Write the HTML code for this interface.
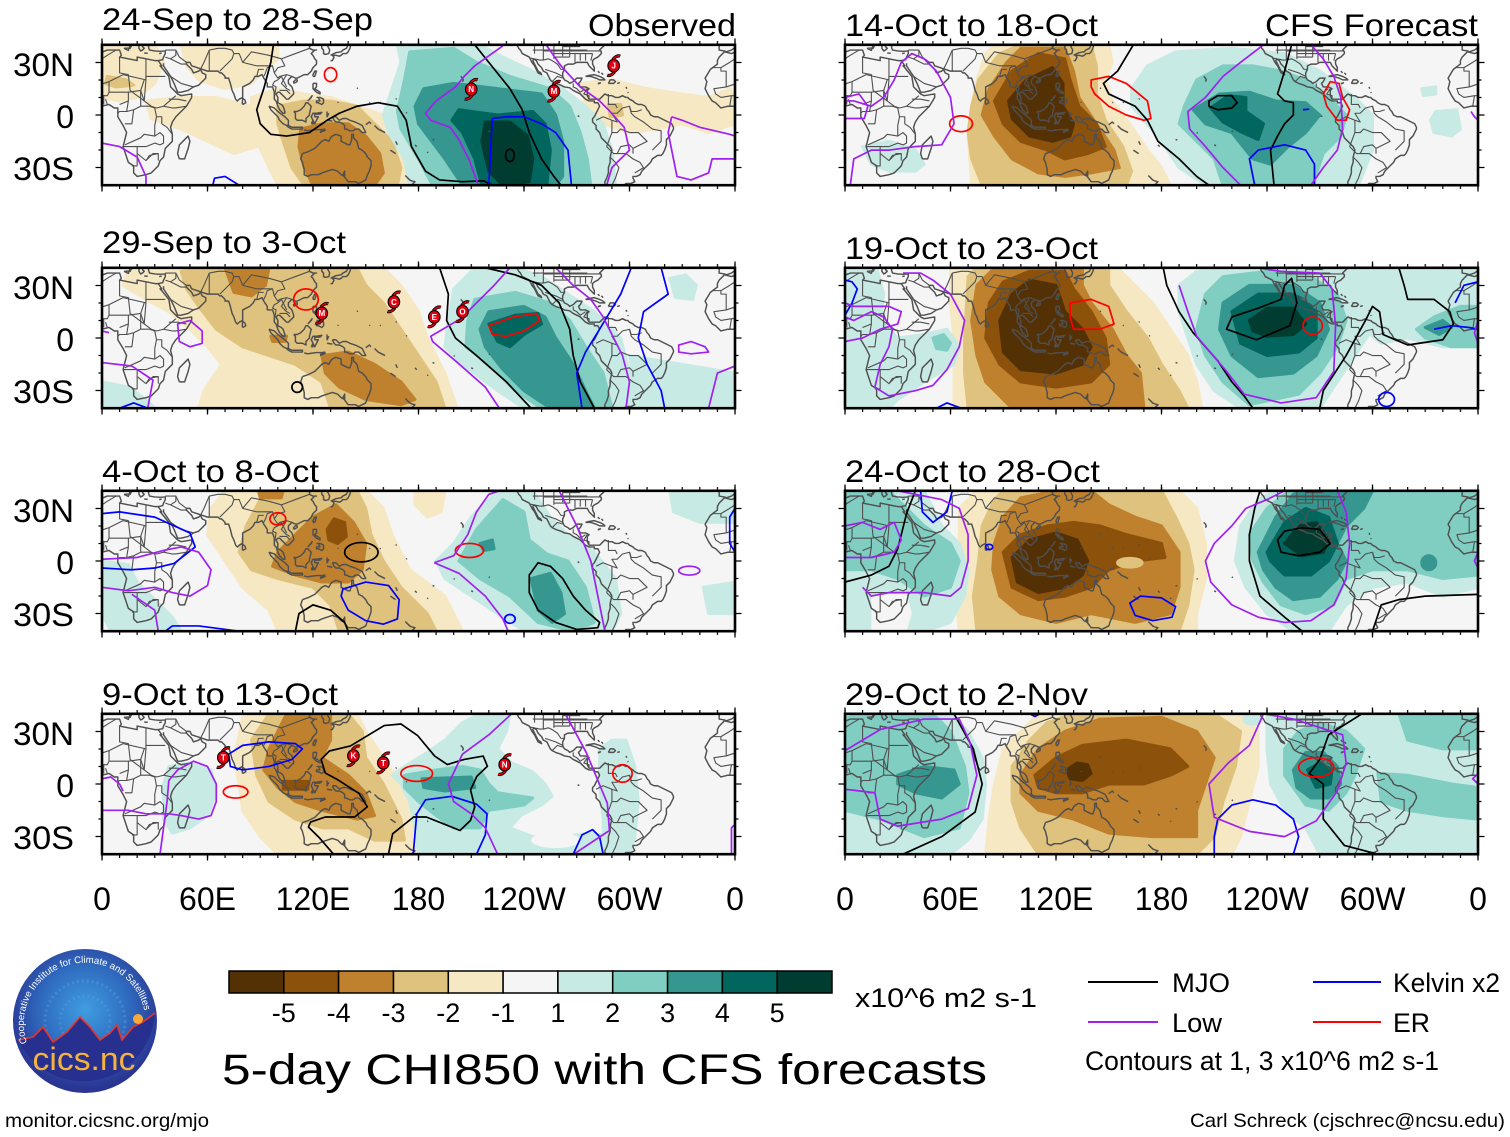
<!DOCTYPE html>
<html><head><meta charset="utf-8">
<style>
html,body{margin:0;padding:0;background:#fff;}
svg{display:block;font-family:"Liberation Sans",Arial,sans-serif;}
.m polyline,.m polygon,.m ellipse,.m path{vector-effect:non-scaling-stroke;}
.cst polyline{fill:none;stroke:#4f4f4f;stroke-width:1.45;stroke-linejoin:round;vector-effect:non-scaling-stroke;}
.cst .bd{stroke-width:1.1;}
.a5{fill:#543005;stroke:#543005}.a4{fill:#8c510a;stroke:#8c510a}.a3{fill:#bf812d;stroke:#bf812d}.a2{fill:#dfc27d;stroke:#dfc27d}.a1{fill:#f6e8c3;stroke:#f6e8c3}
.z0{fill:#f5f5f5}
.b1{fill:#c7eae5;stroke:#c7eae5}.b2{fill:#80cdc1;stroke:#80cdc1}.b3{fill:#35978f;stroke:#35978f}.b4{fill:#01665e;stroke:#01665e}.b5{fill:#003c30;stroke:#003c30}
.a1,.a2,.a3,.a4,.a5,.b1,.b2,.b3,.b4,.b5{stroke-width:3;stroke-linejoin:round;}
.k,.p,.u,.r{fill:none;stroke-width:1.7;stroke-linejoin:round;vector-effect:non-scaling-stroke;}
.k{stroke:#000}.p{stroke:#a020f0}.u{stroke:#0000ff}.r{stroke:#ff0000}
.hl{font-size:8px;font-weight:bold;fill:#fff;text-anchor:middle;}
</style></head>
<body>
<svg width="1510" height="1137" viewBox="0 0 1510 1137" xmlns="http://www.w3.org/2000/svg">
<defs>
<clipPath id="cp"><rect x="0" y="-40" width="360" height="80"/></clipPath>
<pattern id="tk" x="-0.6" y="0" width="17.5833" height="10" patternUnits="userSpaceOnUse"><rect width="1.2" height="10" fill="#000"/></pattern>
<g id="coastbase" class="cst">
<polyline points="-6,36 -2,35 3,37 10,37 11,34 10,33 15,32 20,31 20,33 25,32 30,31 32,31 34,28 33,28 34,27 38,22 39,16 43,12 45,11 51,12 51,10 48,5 45,2 42,-1 40,-4 39,-7 40,-11 40,-15 36,-19 35,-24 33,-26 32,-29 28,-33 25,-34 20,-35 18,-33 18,-29 15,-27 12,-18 14,-10 12,-6 9,-1 9,4 7,4 4,6 0,5 -4,5 -8,4 -11,7 -13,8 -15,11 -17,15 -16,19 -17,21 -14,26 -10,29 -10,31 -9,33 -6,36"/>
<polyline points="44,-25 47,-25 49,-19 50,-15 49,-12 48,-13 44,-17 43,-22 44,-25"/>
<polyline points="32,31 34.5,31.5 35,33 36,35 36,36.5 33,36.3 30,36.5 27,37 26.5,38.5 26.5,40"/>
<polyline points="35,29.5 35,28 37,25 39,22 41,18 43,13 45,13 49,14 52,16 55,17 57,19 59,21 59,23 57,24 56,26 55,25 52,24 51,26 50,27 48,29 48,30 50,30 51,28 54,27 57,26 60,25 62,25 66,25 67,24 68,24 70,22 70,21 72,21 73,18 74,14 75,12 76,9 77,8 78,9 80,10 80,13 80,16 82,17 84,18 86,20 87,22 89,22 91,23 92,21 94,18 94,16 97,16 98,13 98,9 99,8 100,5 101,3 103,1 104,1 104,2 103,5 102,6 100,7 100,10 99,12 100,13 101,13 103,11 105,9 106,9 107,10 109,12 109,13 108,16 106,18 106,20 108,22 110,21 111,21 113,22 115,23 117,23 119,25 120,27 122,29 122,31 121,32 120,34 119,35 121,37 122,37 120,37 118,38 118,39 119,40"/>
<polyline points="80,6 81.8,7 81.3,8.5 80,9.5 79.8,7 80,6"/>
<polyline points="125,40 125,38 126,37 126,35 127,34.5 129,35 129.5,37 128.5,39 128,40"/>
<polyline points="130,31 131,31 132,33 131,34 133,34 135,33.5 136,34 137,35 139,35 140,36 141,38 141.5,40"/>
<polyline points="130,34 133,35.5 136,36 137,37 139,38 140,40"/>
<polyline points="120,22 121,22 122,25 121,25 120,23 120,22"/>
<polyline points="109,18 111,19 111,20 110,20 109,19 109,18"/>
<polyline points="120,18 122,18 122,16 121,15 124,13 124,12 122,13 121,14 120,15 120,18"/>
<polyline points="122,10 124,10 126,9 126,7 125,6 123,7 122,7 122,8 124,8 123,10 122,10"/>
<polyline points="117,8 119,10 119.5,11 118,9 117,8"/>
<polyline points="109,2 110,1 110,-2 111,-3 114,-3 116,-4 116,-2 118,0 118,1 119,5 117,7 116,7 115,5 113,3 111,2 109,2"/>
<polyline points="95,5 98,4 100,2 104,-1 106,-3 106,-6 105,-6 103,-5 101,-3 100,-1 98,1 96,3 95,5"/>
<polyline points="105,-6 106,-6 108,-7 111,-7 114,-7 114,-8 111,-8 108,-8 106,-7 105,-6"/>
<polyline points="115,-8.5 117,-9 119,-8.7 122,-8.3 125,-8.3 127,-8"/>
<polyline points="124,-10 127,-8.7 126,-8.4 124,-9.5"/>
<polyline points="119,-5 120,-3 119,-1 120,1 122,1 125,1.5 124,0.5 121,0.5 121,-1 123,-1 122,-3 121,-5 120,-3 120,-5 119,-5"/>
<polyline points="128,2 128,-1 129,1"/><polyline points="128,-3 131,-3.5"/>
<polyline points="131,-1 133,-1 135,-3 137,-2 139,-2 141,-3 144,-4 146,-5 148,-6 150,-10 148,-10 146,-8 144,-8 143,-9 141,-9 139,-8 138,-8 138,-6 137,-5 135,-4 133,-4 132,-3 131,-1"/>
<polyline points="150,-5.5 152,-4 153,-5"/><polyline points="155,-6 157,-8 159,-9 161,-10"/>
<polyline points="114,-22 113,-25 114,-27 115,-31 115,-34 117,-35 119,-34 123,-34 125,-33 128,-32 131,-31 134,-32 136,-34 138,-35 138,-32 137,-34 140,-38 142,-38 144,-38 146,-39 148,-38 150,-37 151,-34 152,-32 153,-29 153,-26 151,-24 150,-22 148,-20 146,-19 145,-15 143,-13 143,-11 142,-11 142,-14 141,-17 140,-17 138,-16 136,-15 136,-12 133,-11 131,-12 130,-13 129,-15 127,-14 125,-15 123,-17 122,-18 121,-19 119,-20 117,-21 114,-22"/>
<polyline points="172.5,-34.5 174,-36 175,-37 176,-37.5 178,-38 177,-39 176,-40"/>
<polyline points="164,-20 167,-22"/><polyline points="167,-15 168,-17"/><polyline points="178,-17 179,-18"/>
<polyline points="204,22 205,21 205.5,20 205,19"/>
<polyline points="158,7 158.6,7.2"/><polyline points="167,9 167.6,9.3"/><polyline points="173,1 173.4,1.5"/><polyline points="188,-14 189,-14.3"/><polyline points="185,-21 185.5,-21.5"/><polyline points="210,-17 211,-17.5"/><polyline points="220,-9 220.6,-9.5"/><polyline points="270.5,-0.5 271.5,-0.8"/><polyline points="145,15 145.5,15.5"/><polyline points="134,7 134.5,7.4"/><polyline points="152,7 152.5,7.3"/><polyline points="200,-10 200.6,-10.4"/>
<polyline points="236,40 237,38 238,37 239,35 241,34 243,33 244,31 244.5,30 246,28 247,26 248,24 250,23 249.5,24 248,25 247,27 246,29 245,31 245.5,32 247,31 248,29 249,28 250,27 251,25 253,24 254,22 255,20 256,19 258,18 261,17 263,16 266,15.5 268,14 270,13 272,12 274,10 275,9 277,8 278,8 280,8 280,7 282,7 283,5 282,3 281,1 280,-1 279,-2 279,-4 281,-6 281,-8 283,-10 284,-13 286,-15 289,-18 290,-20 289,-24 289,-27 288,-30 288,-33 287,-36 286,-38 286,-40"/>
<polyline points="277,9 276,11 276,14 277,15 275,16 272,16 271,18 272,19 273,21 270,21 269,20 268,19 266,18 265,19 263,20 262,22 262,24 263,26 263,28 265,29 268,29 270,30 271,30 274,30 276,30 277,28 278,27 280,25 280,27 279,29 279,31 280,32 282,33 284,35 284,36 283,37 284,38 285,39 286,40"/>
<polyline points="277,9 279,9 281,9 283,9 284,10 285,11 286,12 288,11 290,11 292,10 294,10 296,11 298,10 299,10 300,9 302,8 303,7 305,6 307,6 309,5 310,3 311,2 312,0 314,-1 316,-1 318,-2 320,-3 322,-4 324,-5 325,-7 325,-8 324,-10 323,-12 321,-14 321,-17 320,-20 319,-22 318,-23 316,-23 313,-25 312,-27 311,-28 309,-30 307,-32 306,-34 304,-35 302,-35 302,-36 303,-38 301,-39 298,-39 297,-40"/>
<polyline points="275,22 277,22.5 280,23 283,22 285,21 286,20 283,20 281,21 278,22 275,22"/>
<polyline points="288,18 289,20 291,20 292,19 291,18 288,18"/>
<polyline points="282,18 283.5,18.3 282.5,17.8 282,18"/><polyline points="293,18 294.5,18.4"/><polyline points="298,16 298.5,15"/><polyline points="299,13 299.3,12.5"/><polyline points="282,25 283,24"/><polyline points="284,24 285,23"/>
<polyline points="-9,40 -9,37 -6,36.5 -5,36 -2,37 0,38.5 0,40"/>
<polyline points="15.5,40 16,38 16.5,39 17,40"/><polyline points="12.5,38 15.5,38.2 15,36.8 12.5,38"/>
<polyline points="21,40 21,38 22,36.5 23,37 24,38 23,39 23.5,40"/><polyline points="24,35.3 26,35.2"/><polyline points="32.5,35 34,35.3"/>
<polyline class="bd" points="-13,27 -8,27 -8,25 -5,25 -5,16 4,19 12,23 25,20 25,22 36,22"/>
<polyline class="bd" points="25,32 25,20 24,8 28,5 31,4 35,5 42,11"/>
<polyline class="bd" points="10,33 10,24 15,23 16,14 24,8"/>
<polyline class="bd" points="4,19 4,13 15,13 15,8 10,6"/>
<polyline class="bd" points="-5,16 -12,15 -11,12 -8,10 -2,11 1,11 3,11 4,13"/>
<polyline class="bd" points="15,8 14,2 10,2 9,1"/>
<polyline class="bd" points="14,2 18,3 22,5 27,5 30,4 31,-1 30,-6 30,-12 24,-11 22,-13 13,-17"/>
<polyline class="bd" points="31,-1 34,-1 34,-5 37,-7 40,-11"/>
<polyline class="bd" points="35,5 40,4 42,4 48,5"/>
<polyline class="bd" points="30,-12 33,-10 35,-12 35,-16 33,-17 30,-16 25,-18 20,-18 20,-22 25,-26 27,-23 32,-22 32,-26"/>
<polyline class="bd" points="12,-18 20,-18"/><polyline class="bd" points="20,-22 20,-29 17,-29"/>
<polyline class="bd" points="-8,27 -3,30 0,32 3,34 8,37"/><polyline class="bd" points="-2,11 -3,5"/><polyline class="bd" points="1,11 1,6"/><polyline class="bd" points="2,9 3,6"/>
<polyline class="bd" points="22,5 22,14 24,20"/><polyline class="bd" points="15,13 22,14 24,8"/><polyline class="bd" points="18,3 17,-5 13,-5"/><polyline class="bd" points="25,-26 29,-22 32,-22"/><polyline class="bd" points="38,9 43,9 48,8"/>
<polyline class="bd" points="36,37 42,37 44,33 48,30"/><polyline class="bd" points="39,22 45,18 52,16"/>
<polyline class="bd" points="56,26 58,30 61,37"/><polyline class="bd" points="61,25 61,30 61,37"/><polyline class="bd" points="39,32 45,29 48,29"/><polyline class="bd" points="36,33 39,32 42,34 42,37"/>
<polyline class="bd" points="67,25 70,28 74,32 75,35 78,35 80,30 88,28 92,28 97,28 98,24 100,21 101,22 105,23 108,22"/>
<polyline class="bd" points="92,22 93,24 94,27 97,28"/><polyline class="bd" points="88,22 89,26 92,26"/>
<polyline class="bd" points="98,10 99,16 97,17 98,19 100,20"/><polyline class="bd" points="101,14 103,14 105,14 107,12"/>
<polyline class="bd" points="105,23 102,18 105,15 107,14"/><polyline class="bd" points="100,20 102,22 104,18 105,16"/>
<polyline class="bd" points="80,30 85,36 95,34 102,32 110,35 118,38"/><polyline class="bd" points="61,37 66,38 70,38 74,37 75,35"/><polyline class="bd" points="102,32 104,28 100,27 98,24"/>
<polyline class="bd" points="243,32.5 249,31.3 251,31.3 253,31.8 254,32 256,31 259,29 261,26 263,26"/>
<polyline class="bd" points="246,40 246,35"/><polyline class="bd" points="251,40 251,31.3"/><polyline class="bd" points="257,40 257,32"/><polyline class="bd" points="262,40 262,33.5"/><polyline class="bd" points="266,40 266,33"/><polyline class="bd" points="269,35 269,30"/><polyline class="bd" points="272,35 272,31"/><polyline class="bd" points="275,35 275,31"/><polyline class="bd" points="279,35 278,31"/>
<polyline class="bd" points="245,37 276,37"/><polyline class="bd" points="251,36.5 284,36.5"/><polyline class="bd" points="257,35 279,35"/><polyline class="bd" points="257,33 266,33"/><polyline class="bd" points="262,39 272,39"/>
<polyline class="bd" points="268,18 268,16 270,15 272,13 275,15"/><polyline class="bd" points="276,15 274,12 277,11 277,9"/><polyline class="bd" points="252,26 258,24 262,22"/><polyline class="bd" points="256,19 259,22 262,21"/>
<polyline class="bd" points="287,-18 291,-22 293,-22 298,-22 302,-25 306,-27 308,-30 303,-33"/>
<polyline class="bd" points="287,-18 290,-10 293,-10 295,-8 300,-10 305,-10 310,-15 302,-19 302,-22"/>
<polyline class="bd" points="281,-3 283,-2 285,-1 290,-3 293,-4 290,1 293,1 296,4 300,5 301,2 304,2 307,3"/>
<polyline class="bd" points="288,12 288,6 292,6 293,4"/><polyline class="bd" points="290,-3 290,-10"/><polyline class="bd" points="293,-22 295,-18 300,-17 302,-19"/><polyline class="bd" points="289,-24 292,-27 294,-30 292,-36 290,-40"/>
<polyline class="bd" points="300,5 301,1 303,-1 308,-4 313,-8 318,-9 318,-15 315,-18 313,-20"/>
</g>
<g id="coast"><use href="#coastbase"/><use href="#coastbase" transform="translate(360,0)"/></g>
<g id="ticks" fill="none" stroke="#000">
<rect x="-0.6" y="-74" width="634.2" height="3.6" fill="url(#tk)" stroke="none"/>
<rect x="-0.6" y="70.4" width="634.2" height="3.6" fill="url(#tk)" stroke="none"/>
<path stroke-width="1.3" d="M0 -70v-6.5M105.5 -70v-6.5M211 -70v-6.5M316.5 -70v-6.5M422 -70v-6.5M527.5 -70v-6.5M633 -70v-6.5M0 70v6.5M105.5 70v6.5M211 70v6.5M316.5 70v6.5M422 70v6.5M527.5 70v6.5M633 70v6.5"/>
<path stroke-width="1.3" d="M0 -52.5h-6.5M0 0h-6.5M0 52.5h-6.5M633 -52.5h6.5M633 0h6.5M633 52.5h6.5M0 -35h-3.5M0 -17.5h-3.5M0 17.5h-3.5M0 35h-3.5M633 -35h3.5M633 -17.5h3.5M633 17.5h3.5M633 35h3.5"/>
<rect x="0" y="-70.2" width="633" height="140.4" stroke-width="2.6"/>
</g>
<g id="hur">
<path d="M-1,-6 Q3,-11 6.5,-9.5" fill="none" stroke="#000" stroke-width="3.2"/>
<path d="M1,6 Q-3,11 -6.5,9.5" fill="none" stroke="#000" stroke-width="3.2"/>
<path d="M-1,-6 Q3,-11 6.5,-9.5" fill="none" stroke="#e00010" stroke-width="1.6"/>
<path d="M1,6 Q-3,11 -6.5,9.5" fill="none" stroke="#e00010" stroke-width="1.6"/>
<ellipse rx="5.8" ry="6.3" fill="#e00010" stroke="#000" stroke-width="1.1"/>
</g>
<radialGradient id="lg" cx="0.5" cy="0.42" r="0.55"><stop offset="0" stop-color="#3f9de0"/><stop offset="0.55" stop-color="#2f6cc0"/><stop offset="1" stop-color="#2a3592"/></radialGradient>
<path id="arc" d="M27,1043 A61,61 0 1 1 145,1034"/>
</defs>

<rect width="1510" height="1137" fill="#fff"/>

<!-- ================= PANEL 1 ================= -->
<g class="m" transform="translate(102,115) scale(1.7583,-1.755)"><g clip-path="url(#cp)">
<rect class="z0" x="0" y="-40" width="360" height="80"/>
<polygon class="a1" points="0,40 30,40 35,30 30,18 20,10 10,8 0,10"/>
<polygon class="a1" points="45,40 100,40 100,32 92,25 85,18 70,15 55,20 48,28"/>
<polygon class="a1" points="25,8 45,10 65,10 85,5 90,-5 88,-18 75,-22 60,-15 45,-8 28,-2"/>
<polygon class="a1" points="85,10 100,15 115,12 130,10 145,5 160,0 170,-10 178,-25 180,-40 100,-40 95,-30 88,-15 85,-5"/>
<polygon class="a1" points="272,18 290,20 310,15 330,12 345,10 357,15 360,10 360,-5 345,-10 330,-5 315,-8 300,-10 285,-5 275,5"/>
<polygon class="a2" points="100,5 115,8 130,8 145,5 155,-5 165,-15 170,-30 168,-40 115,-40 108,-30 103,-15 100,-5"/>
<polygon class="a2" points="288,6 295,6 296,0 289,-1"/>
<polygon class="a2" points="3,22 14,20 18,17 8,16 2,18"/>
<polygon class="a3" points="113,-8 125,-5 140,-5 150,-12 158,-22 160,-33 155,-40 120,-40 115,-30 112,-18"/>
<polygon class="b1" points="168,40 215,40 228,33 245,25 262,15 275,5 285,-5 290,-20 292,-40 175,-40 172,-25 163,-10 160,0 165,15 170,30"/>
<polygon class="b2" points="175,36 200,38 213,30 232,22 255,15 266,5 272,-10 276,-25 278,-40 188,-40 180,-25 170,-8 168,2 172,20"/>
<polygon class="b3" points="183,15 200,18 225,15 250,12 258,0 262,-15 262,-35 258,-40 205,-40 195,-25 180,-5 178,5"/>
<polygon class="b4" points="203,3 225,0 245,2 252,-5 255,-20 253,-40 216,-40 212,-25 205,-10 199,-3"/>
<polygon class="b5" points="218,-4 232,-4 242,-12 245,-25 243,-38 228,-40 220,-32 216,-15"/>
<use href="#coast"/>
<polyline class="k" points="97.5,40 96,30 92,15 88,3 90,-5 96,-11 105,-12 118,-10 128,-3 135,1 145,5 157,7 168,5 173,-3 176,-18 184,-32 192,-37 205,-38 217,-37.5 222,-40"/>
<polyline class="k" points="212,40 220,30 232,15 239,3 243,-10 250,-25 257,-35 261,-40"/>
<ellipse class="k" cx="232" cy="-23" rx="2.5" ry="3.5"/>
<polyline class="p" points="228,39.4 212,28 206,22 201,16 190,8 184,1 187,-3 198,-7 203,-14 209,-26 214,-40"/>
<polyline class="p" points="253,39.4 261,28 272,16 283,8 288,3 297,-7 300,-20 290,-30 287,-40"/>
<polyline class="p" points="324,-1 330,-3 340,-7 357,-11 360,-12"/>
<polyline class="p" points="324,-1 322,-10 324,-20 327,-35 335,-37 345,-33 347,-25 352,-25 360,-25"/>
<polyline class="p" points="0,-16 10,-18 20,-24 25,-35 25,-40"/>
<polyline class="u" points="220,-40 221,-20 222,-2 230,-1 240,-1 250,-5 258,-10 265,-20 267,-40"/>
<polyline class="u" points="63,-40 64,-36 70,-35 78,-40"/>
<ellipse class="r" cx="130" cy="23" rx="3.5" ry="4"/>
</g></g>
<use href="#ticks" transform="translate(102,115)"/>

<!-- ================= PANEL 2 ================= -->
<g class="m" transform="translate(102,338) scale(1.7583,-1.755)"><g clip-path="url(#cp)">
<rect class="z0" x="0" y="-40" width="360" height="80"/>
<polygon class="a1" points="15,40 160,40 170,30 180,15 185,0 195,-20 202,-40 55,-40 58,-30 68,-15 60,-5 50,5 38,15 25,22 12,30"/>
<polygon class="a2" points="45,38 60,40 145,40 150,30 160,20 170,5 180,-10 190,-25 195,-40 130,-40 125,-25 110,-15 95,-10 80,-5 65,5 55,18 48,28"/>
<polygon class="a3" points="70,40 95,40 93,30 85,24 75,26"/>
<polygon class="a3" points="125,-10 140,-8 155,-15 170,-25 178,-35 170,-38 150,-35 135,-28 127,-20"/>
<polygon class="a3" points="96,1 105,1 104,-2 97,-2"/>
<polygon class="b1" points="197,10 200,28 210,38 235,40 250,35 265,25 280,15 295,0 300,-20 305,-40 240,-40 225,-30 205,-15 195,-5"/>
<polygon class="b1" points="0,-25 15,-28 25,-35 30,-40 0,-40"/>
<polygon class="b1" points="300,-10 330,-15 360,-20 360,-40 305,-40"/>
<polygon class="b1" points="323,34 332,36 338,30 336,22 326,23"/>
<polygon class="b2" points="212,22 235,26 255,20 266,10 275,-5 285,-20 290,-40 250,-40 235,-30 220,-15 207,-5 208,10"/>
<polygon class="b3" points="220,15 240,18 252,12 258,0 268,-15 275,-30 280,-40 255,-40 240,-30 228,-18 218,-5 215,5"/>
<polygon class="b4" points="220,8 235,13 248,14 250,8 240,2 232,-5 225,-2"/>
<use href="#coast"/>
<polygon class="r" points="220,7 234,12 247,14 249,10 240,4 230,1 222,2"/>
<ellipse class="r" cx="116" cy="22" rx="7" ry="6"/>
<polyline class="k" points="192,40 197,25 196,10 201,0 213,-10 230,-25 244,-40"/>
<polyline class="k" points="218,40 235,36 250,30 260,20 266,5 268,-10 272,-25 280,-40"/>
<ellipse class="k" cx="111" cy="-28" rx="3" ry="3"/>
<polyline class="u" points="273,-40 270,-20 275,-8 283,5 295,25 301,40"/>
<polyline class="u" points="318,40 322,25 308,15 305,0 310,-15 318,-30 320,-40"/>
<polyline class="u" points="10,-40 18,-37 26,-40"/>
<polygon class="p" points="43,8 50,10 57,4 57,-3 50,-5 44,-2"/>
<polyline class="p" points="0,-14 17,-16 29,-24 26,-40"/>
<polyline class="p" points="0,4 4,3"/>
<polyline class="p" points="232,40 223,30 204,11 187,1 188,-2 201,-13 218,-28 226,-40"/>
<polyline class="p" points="258,40 268,30 278,22 285,12 290,2 296,-10 300,-25 298,-40"/>
<polygon class="p" points="328,-4 335,-2 343,-5 345,-8 335,-9 328,-8"/>
<polyline class="p" points="345,-40 350,-20 360,-16"/>
</g></g>
<use href="#ticks" transform="translate(102,338)"/>

<!-- ================= PANEL 3 ================= -->
<g class="m" transform="translate(102,561) scale(1.7583,-1.755)"><g clip-path="url(#cp)">
<rect class="z0" x="0" y="-40" width="360" height="80"/>
<polygon class="a1" points="62,30 70,40 150,40 160,30 165,15 175,-5 195,-20 205,-40 100,-40 95,-28 80,-15 70,0 60,15"/>
<polygon class="a1" points="178,40 195,40 193,28 185,25 178,32"/>
<polygon class="a2" points="78,5 82,20 90,35 100,40 145,40 150,30 153,15 160,0 170,-15 185,-30 190,-40 135,-40 130,-25 120,-15 100,-10 85,-5"/>
<polygon class="a3" points="97,-3 100,5 110,15 120,25 133,32 143,22 150,10 148,-5 140,-12 125,-12 110,-8"/>
<polygon class="a3" points="89,40 103,40 102,36 90,36"/>
<polygon class="a4" points="128,18 132,24 138,22 139,14 134,10 129,12"/>
<polygon class="b1" points="190,0 200,10 210,25 225,40 245,40 255,25 265,15 280,5 292,-10 295,-30 290,-40 240,-40 225,-30 210,-20 195,-10"/>
<polygon class="b1" points="323,40 360,40 360,22 340,22 325,28"/>
<polygon class="b1" points="342,-15 360,-12 360,-30 345,-30"/>
<polygon class="b1" points="0,0 15,-2 20,-12 30,-22 40,-32 45,-40 5,-40 0,-30"/>
<polygon class="b2" points="203,0 213,18 228,35 240,28 243,12 253,4 265,0 275,-15 280,-35 268,-40 248,-35 232,-20 215,-10"/>
<polygon class="b3" points="244,-10 255,-7 261,-18 263,-30 256,-35 248,-28"/>
<polygon class="b3" points="215,10 222,12 223,7 217,6"/>
<use href="#coast"/>
<polyline class="u" points="0,27 10,28 30,25 50,16 53,8 41,-1.4 30,-4 17,-5 0,-4"/>
<polygon class="u" points="137,-16 150,-12 163,-14 169,-22 168,-33 160,-36 150,-34 140,-28 136,-20"/>
<polyline class="u" points="36,-40 40,-37 55,-37 78,-40"/>
<ellipse class="u" cx="232" cy="-33" rx="3" ry="2.5"/>
<polyline class="u" points="360,30 357,25 357,10 360,5"/>
<ellipse class="k" cx="147.5" cy="5" rx="9.5" ry="5.5"/>
<polyline class="k" points="110,-40 112,-30 120,-25 130,-28 138,-35 140,-40"/>
<polygon class="k" points="243,-8 248,-1 255,-3 262,-10 268,-20 275,-28 283,-35 282,-38 270,-39 258,-35 248,-28 243,-18"/>
<ellipse class="r" cx="100" cy="24" rx="4.5" ry="3.5"/>
<ellipse class="r" cx="209" cy="6" rx="8" ry="4"/>
<polyline class="p" points="0,1 20,2 35,6 45,8 55,5 62,-5 60,-14 50,-20 40,-18 30,-15 15,-17 0,-15"/>
<polyline class="p" points="17,-19 30,-28 32,-40"/>
<polyline class="p" points="189,-1 200,3 208,15 213,28 220,38 226,40"/>
<polyline class="p" points="189,-1 203,-7 218,-20 228,-33 231,-40"/>
<polyline class="p" points="260,40 270,20 278,0 282,-20 286,-40"/>
<ellipse class="p" cx="334" cy="-5.5" rx="6" ry="2.5"/>
</g></g>
<use href="#ticks" transform="translate(102,561)"/>

<!-- ================= PANEL 4 ================= -->
<g class="m" transform="translate(102,784) scale(1.7583,-1.755)"><g clip-path="url(#cp)">
<rect class="z0" x="0" y="-40" width="360" height="80"/>
<polygon class="a1" points="78,28 80,38 90,40 145,40 150,30 160,15 170,0 178,-20 180,-40 100,-40 90,-30 80,-15 78,0 75,15"/>
<polygon class="a2" points="85,25 95,40 140,40 148,30 150,15 160,0 170,-20 172,-32 155,-32 140,-25 125,-25 110,-20 95,-10 88,5"/>
<polygon class="a3" points="92,8 95,20 100,30 105,40 130,40 130,25 125,15 140,5 150,-5 155,-18 145,-20 125,-15 110,-10 100,-2"/>
<polygon class="a4" points="103,1.5 117,1.5 117,-3 103,-3"/>
<polygon class="b1" points="165,5 172,10 185,18 195,25 205,35 215,40 232,40 230,30 225,20 233,12 245,7 252,0 256,-7 250,-12 238,-18 232,-25 245,-30 262,-30 278,-28 290,-30 300,-35 300,-40 180,-40 178,-25 175,-10 170,0"/>
<ellipse class="z0" cx="258" cy="-32" rx="14" ry="4.5"/>
<polygon class="b1" points="283,20 290,25 298,25 303,10 305,-10 303,-30 300,-40 285,-40 285,-20 283,0"/>
<polygon class="b1" points="38,10 50,12 62,8 65,-5 60,-18 50,-25 40,-28 35,-20 35,0"/>
<polygon class="b2" points="172,5 190,8 205,10 215,8 220,0 225,-5 245,-8 240,-12 220,-15 215,-25 200,-25 190,-18 180,-10 172,-2"/>
<polygon class="b3" points="182,3 210,4 212,-2 195,-4 183,-2"/>
<use href="#coast"/>
<polygon class="u" points="72,17 80,22 95,24 110,23 114,20 108,14 95,10 80,8 73,10"/>
<polyline class="u" points="177,-40 179,-17 184,-9 199,-7 213,-11.5 219,-17 218,-29 213,-40"/>
<polyline class="u" points="268,-40 273,-29 279,-26 283,-30 285,-40"/>
<polyline class="k" points="131.7,-40 123.4,-30.4 117.4,-24.5 118.6,-21.7 127,-18.8 143.7,-18.8 150.9,-13 146.1,-5.3 134.1,2.4 127,6.3 124.6,14 129.3,18.8 141.3,21.7 160.5,33.3 170,34.2 179.6,27.5 189.2,15.9 196.4,11.1 206,14 216.8,15.9 219.2,10.1 213.2,4.4 209.6,-3.4 212,-13 209.6,-20.7 203.6,-26.5 194,-22.6 184.4,-18.8 177.2,-18.8 165.3,-28.4 162.9,-40"/>
<ellipse class="r" cx="179" cy="6" rx="9" ry="4.5"/>
<ellipse class="r" cx="76" cy="-4.5" rx="7" ry="3.5"/>
<ellipse class="r" cx="296" cy="6" rx="5.5" ry="5"/>
<polyline class="p" points="33,-40 35,-25 37,-10 38,2 43,8 52,13 60,10 65,0 65,-10 62,-18 55,-20 45,-18 38,-17 25,-17 15,-15 0,-15"/>
<polyline class="p" points="0,3 5,4 10,0 12,-4"/>
<polyline class="p" points="233,40 220,28 205,17 197,0 200,-10 210,-17 218,-25 225,-40"/>
<polyline class="p" points="263.5,40 275.4,18 287.4,-11 288.6,-26.5 268.3,-40"/>
<polyline class="p" points="358,-40 358,-25 360,-23"/>
</g></g>
<use href="#ticks" transform="translate(102,784)"/>

<!-- ================= PANEL 5 ================= -->
<g class="m" transform="translate(845,115) scale(1.7583,-1.755)"><g clip-path="url(#cp)">
<rect class="z0" x="0" y="-40" width="360" height="80"/>
<polygon class="a1" points="70,-10 72,5 75,20 80,35 85,40 150,40 152,30 148,20 152,8 162,-5 172,-20 180,-30 185,-40 72,-40"/>
<polygon class="a2" points="70,-10 72,5 76,20 88,35 100,40 140,40 143,28 143,12 148,-3 158,-18 163,-32 160,-40 78,-40 72,-25"/>
<polygon class="a3" points="78,0 82,15 92,30 100,38 125,38 130,25 133,10 143,-5 153,-20 156,-30 140,-33 125,-35 110,-33 95,-25 85,-12"/>
<polygon class="a4" points="85,8 95,25 110,35 125,32 128,20 133,5 143,-5 148,-18 138,-22 125,-25 115,-20 100,-15 90,-5"/>
<polygon class="a5" points="93,8 103,20 118,27 124,18 124,5 130,-5 128,-12 118,-15 105,-12 95,-2"/>
<polygon class="b1" points="163,15 172,28 188,36 220,38 250,35 270,25 290,10 300,0 300,-20 292,-40 205,-40 190,-30 180,-15 170,-3 163,5"/>
<polygon class="b1" points="328,15 336,16 336,12 329,11"/>
<polygon class="b1" points="336,2 348,3 350,-8 345,-12 335,-10 333,-3"/>
<polygon class="b1" points="10,-18 25,-15 40,-20 45,-28 40,-32 25,-32 15,-28"/>
<polygon class="b2" points="193,5 200,20 215,28 232,28 248,25 262,20 275,10 285,0 282,-12 272,-22 266,-40 215,-40 210,-25 200,-15 190,-5"/>
<polygon class="b3" points="198,3 213,12 230,13 245,8 262,7 270,0 262,-10 252,-18 242,-28 232,-25 220,-10 205,-5"/>
<polygon class="b4" points="208,4 218,11 228,10 228,2 238,-5 235,-14 226,-10 215,-4"/>
<use href="#coast"/>
<polygon class="r" points="140,20 150,22 160,18 172,8 174,-2 170,-3 160,0 150,5 142,12 140,16"/>
<ellipse class="r" cx="66" cy="-5" rx="6.5" ry="4.5"/>
<polygon class="r" points="276,19 281,18 283,10 287,3 285,-3 280,-3 274,5 272,12"/>
<polyline class="k" points="164,40 155,25 147,18 150,12 165,5 172,-3 178,-15 190,-25 200,-35 207,-40"/>
<polygon class="k" points="207,8 212,11 220,11 223,7 220,4 212,3 207,5"/>
<polyline class="k" points="254,40 250,25 246,12 250,8 255,7 255,0 250,-5 246,-12 242,-20 244,-40"/>
<polyline class="u" points="233,-40 230,-25 235,-20 250,-17 262,-20 267,-28 267,-40"/>
<polyline class="u" points="260.5,3 264,3.3"/>
<polyline class="p" points="3,-40 5,-25 15,-20 25,-20 40,-18 55,-17 62,-5 60,10 52,25 45,32 38,35 32,30 28,20 22,10 15,5 5,8 0,8"/>
<polyline class="p" points="0,10 8,12 13,5 11,-2 0,-2"/>
<polyline class="p" points="238,40 225,30 215,22 205,10 195,2 196,-8 205,-18 215,-30 225,-40"/>
<polyline class="p" points="265,-40 272,-30 280,-20 283,-8 282,10 278,22 272,32 265,40"/>
<polyline class="p" points="356,2 358,-1 360,-3"/>
</g></g>
<use href="#ticks" transform="translate(845,115)"/>

<!-- ================= PANEL 6 ================= -->
<g class="m" transform="translate(845,338) scale(1.7583,-1.755)"><g clip-path="url(#cp)">
<rect class="z0" x="0" y="-40" width="360" height="80"/>
<polygon class="a1" points="60,20 60,40 155,40 165,30 175,20 185,5 195,-10 200,-25 203,-40 62,-40 62,-20 62,0"/>
<polygon class="a2" points="68,0 70,35 75,40 150,40 150,30 160,15 172,0 180,-15 190,-30 195,-40 70,-40 68,-20"/>
<polygon class="a3" points="72,10 75,30 85,40 135,40 135,30 140,20 152,5 160,-10 168,-20 170,-40 95,-40 80,-25 75,-10"/>
<polygon class="a4" points="80,0 82,20 90,32 105,38 125,38 130,28 140,15 148,0 150,-15 140,-25 120,-28 100,-25 88,-15"/>
<polygon class="a5" points="90,-8 88,10 95,25 105,33 120,30 125,15 135,5 140,-5 135,-15 120,-20 100,-18"/>
<polygon class="b1" points="190,15 190,30 200,38 215,40 300,40 300,5 290,-10 280,-25 270,-40 225,-40 210,-30 200,-15 195,0"/>
<polygon class="b1" points="290,40 360,40 360,-5 340,-5 320,0 305,-3 295,5 290,20"/>
<polygon class="b1" points="0,40 18,40 22,25 20,10 30,0 45,2 58,5 65,-5 62,-15 45,-25 30,-35 25,-40 0,-40"/>
<polygon class="b2" points="50,0 56,2 60,-3 58,-7 52,-6"/>
<polygon class="b2" points="200,5 205,25 215,35 240,38 265,35 280,25 285,10 280,-5 270,-20 258,-32 230,-38 215,-25 205,-10"/>
<polygon class="b2" points="325,5 335,12 350,18 360,18 360,-5 345,-5 330,0"/>
<polygon class="b3" points="213,5 215,20 230,30 255,30 270,20 275,5 268,-10 255,-20 235,-22 220,-10"/>
<polygon class="b3" points="330,6 340,10 345,6 338,2"/>
<polygon class="b4" points="225,-3 220,15 235,25 255,25 268,15 268,0 258,-8 240,-10"/>
<polygon class="b5" points="232,4 230,10 240,17 255,17 262,8 255,2 240,1"/>
<use href="#coast"/>
<polyline class="k" points="181,40 183,30 190,15 198,3 205,-5 212,-13 220,-25 227,-33 232,-40"/>
<polygon class="k" points="254,34 257,20 253,7 234,-1 217,5 220,12 235,17 248,22 250,30"/>
<polyline class="k" points="270,-40 272,-30 285,-10 296,10 300,18 304,15 306,2 320,-4 340,-1 346,8 344,15 335,22 320,22 318,30 315,40"/>
<polygon class="r" points="128,20 140,22 150,18 153,8 145,5 130,5 128,12"/>
<ellipse class="r" cx="266" cy="7" rx="5.5" ry="5"/>
<polyline class="u" points="0,13 4,20 7,28 4,32 0,33"/>
<polyline class="u" points="347,20 352,30 360,32"/>
<polyline class="u" points="335,5 345,7 355,6 360,5"/>
<polyline class="u" points="52,-40 58,-37 66,-40"/>
<ellipse class="u" cx="308" cy="-35" rx="4.5" ry="4"/>
<polyline class="p" points="33,37 43,37 50,33 60,25 68,10 65,-5 58,-18 50,-27 40,-30 25,-33 17,-28 20,-15 25,-5 27,5 22,12 15,15 5,10 0,12"/>
<polyline class="p" points="0,-2 10,0 20,5 30,8 32,15 25,18 15,18 5,18 0,20"/>
<polyline class="p" points="234,40 248,38 270,37 277,28 279,7 278,-19 268,-34 248,-37 227,-32 217,-19 200,1 195,15 190,30"/>
<polyline class="p" points="360,10 358,3 360,-3"/>
</g></g>
<use href="#ticks" transform="translate(845,338)"/>

<!-- ================= PANEL 7 ================= -->
<g class="m" transform="translate(845,561) scale(1.7583,-1.755)"><g clip-path="url(#cp)">
<rect class="z0" x="0" y="-40" width="360" height="80"/>
<polygon class="a1" points="63,-20 65,0 65,30 75,40 190,40 200,30 205,10 205,-10 200,-30 200,-40 65,-40"/>
<polygon class="a2" points="73,-20 76,0 78,20 85,35 90,40 180,40 188,25 195,10 198,-5 195,-25 190,-40 75,-40"/>
<polygon class="a3" points="84,-5 85,10 90,25 100,36 120,40 140,40 150,32 165,25 180,20 190,5 190,-15 185,-30 165,-35 140,-30 120,-35 100,-30 88,-20"/>
<polygon class="a4" points="90,5 100,15 115,20 130,22 145,20 160,15 180,10 182,2 165,0 150,-5 140,-15 125,-20 110,-22 95,-15"/>
<polygon class="a5" points="95,2 105,12 120,16 132,12 138,0 135,-8 125,-15 110,-18 98,-12"/>
<ellipse class="a2" cx="162" cy="-1" rx="7" ry="2.5"/>
<polygon class="b1" points="222,0 225,20 235,35 245,40 360,40 360,-15 340,-20 320,-12 300,-15 285,-25 275,-40 255,-40 240,-30 228,-15"/>
<polygon class="b1" points="0,40 45,40 50,30 55,20 65,10 70,-5 68,-20 60,-35 45,-40 0,-40"/>
<polygon class="z0" points="15,-20 35,-18 38,-30 35,-40 15,-40"/>
<polygon class="b2" points="0,40 25,40 35,30 45,20 60,10 65,0 60,-15 45,-20 30,-10 15,-5 0,-5"/>
<polygon class="b2" points="230,15 240,30 250,38 255,40 360,40 360,-8 340,-10 320,-5 300,-5 285,-10 278,-25 262,-30 248,-25 238,-12 232,0"/>
<polygon class="b3" points="235,5 245,25 255,38 260,40 300,40 295,30 285,20 280,10 285,0 280,-10 270,-20 255,-22 245,-15 238,-5"/>
<ellipse class="b3" cx="332" cy="-1" rx="4" ry="4"/>
<polygon class="b4" points="240,5 250,22 262,30 275,25 280,10 275,0 265,-8 250,-8 242,0"/>
<polygon class="b5" points="250,10 258,20 268,22 275,12 272,5 260,3"/>
<use href="#coast"/>
<polyline class="k" points="0,-12 15,-8 25,-3 30,7 35,27 40,40"/>
<polygon class="k" points="246,12 250,17 260,19 270,18 276,10 270,5 258,3 248,5"/>
<polyline class="k" points="236,40 233,30 230,15 230,0 236,-20 250,-32 260,-40"/>
<polyline class="k" points="300,-40 305,-25 315,-22 330,-20 360,-19"/>
<polyline class="u" points="43,40 44,28 50,22 58,28 61,40"/>
<ellipse class="u" cx="82" cy="8" rx="2" ry="1.5"/>
<polygon class="u" points="162,-24 168,-20 180,-21 188,-26 186,-32 175,-34 165,-31"/>
<polyline class="p" points="0,20 10,22 20,18 28,22 32,12 28,5 15,2 0,2"/>
<polyline class="p" points="30,40 40,38 55,35 65,30 70,15 70,0 66,-15 60,-20 45,-18 25,-18 15,-20 10,-15"/>
<polyline class="p" points="250,40 240,35 228,30 220,20 210,10 205,0 208,-12 220,-25 235,-32 250,-35 265,-34 278,-25 285,-10 287,10 285,28 280,40"/>
<polyline class="p" points="360,5 358,0 360,-4"/>
</g></g>
<use href="#ticks" transform="translate(845,561)"/>

<!-- ================= PANEL 8 ================= -->
<g class="m" transform="translate(845,784) scale(1.7583,-1.755)"><g clip-path="url(#cp)">
<rect class="z0" x="0" y="-40" width="360" height="80"/>
<polygon class="a1" points="80,-40 82,-20 85,0 90,20 100,30 110,40 225,40 235,30 235,10 230,-10 225,-30 220,-40"/>
<polygon class="a2" points="95,-10 95,10 105,25 115,35 130,40 210,40 225,30 222,10 215,-10 210,-30 200,-40 110,-40 100,-25"/>
<polygon class="a3" points="100,-5 100,5 110,20 125,30 145,37 180,38 200,30 210,15 205,0 200,-15 200,-30 175,-30 150,-28 130,-20 110,-15"/>
<polygon class="a4" points="110,-2 108,5 120,15 135,22 160,25 185,20 195,10 185,5 170,0 150,0 135,-5 120,-5"/>
<polygon class="a5" points="126,8 132,12 138,11 140,6 135,2 128,3"/>
<polygon class="b1" points="0,40 60,40 70,30 78,15 80,0 78,-20 70,-32 60,-40 0,-40"/>
<polygon class="b2" points="0,38 20,40 50,40 60,30 68,10 70,-5 65,-25 45,-30 20,-20 0,-15"/>
<polygon class="b3" points="30,0 30,5 45,10 62,8 65,0 55,-8 40,-5"/>
<polygon class="b1" points="240,40 360,40 360,-40 270,-40 262,-25 250,-15 242,0 240,20"/>
<ellipse class="b1" cx="232" cy="37" rx="5" ry="3"/>
<polygon class="b2" points="250,5 250,20 258,30 270,35 285,30 295,20 290,5 285,-5 275,-15 262,-12"/>
<polygon class="b2" points="315,40 360,40 360,20 340,20 320,25"/>
<polygon class="b2" points="303,6 320,5 345,0 360,-2 360,-20 340,-18 320,-15 305,-10"/>
<polygon class="b3" points="255,8 262,18 272,18 280,10 282,0 275,-8 265,-8 257,-2"/>
<polygon class="b4" points="263,8 270,12 277,8 276,0 268,-2"/>
<use href="#coast"/>
<polyline class="k" points="33,-40 55,-30 74,-16 78,0 73,20 62,40"/>
<polyline class="k" points="294,40 275,28 270,14 264,6 272,0 272,-20 284,-35 303,-40"/>
<ellipse class="r" cx="268" cy="9.5" rx="10" ry="5.5"/>
<polyline class="u" points="210,-40 210,-30 212,-20 220,-12 232,-9 245,-12 255,-20 258,-30 255,-40"/>
<polyline class="u" points="105,40 108,38.5 111,40"/>
<polyline class="p" points="0,19 20,31 45,37 65,37 71,24 75,5 70,-14 55,-20 30,-24 20,-20 17,-5 0,-3"/>
<polygon class="p" points="238,40 255,37 283,28 285,12 280,-4 268,-21 250,-30 230,-27 210,-19 207,0 218,12 230,22"/>
<polyline class="p" points="360,6 357,3 360,0"/>
</g></g>
<use href="#ticks" transform="translate(845,784)"/>

<!-- Storm symbols -->
<use href="#hur" x="471.2" y="89.3"/><text class="hl" x="471.2" y="92.2">N</text>
<use href="#hur" x="553.9" y="91.2"/><text class="hl" x="553.9" y="94.1">M</text>
<use href="#hur" x="613.7" y="65.7"/><text class="hl" x="613.7" y="68.6">J</text>
<use href="#hur" x="321.8" y="313.3"/><text class="hl" x="321.8" y="316.2">M</text>
<use href="#hur" x="393.9" y="301.9"/><text class="hl" x="393.9" y="304.8">C</text>
<use href="#hur" x="434.3" y="316.9"/><text class="hl" x="434.3" y="319.8">E</text>
<use href="#hur" x="462.5" y="311.6"/><text class="hl" x="462.5" y="314.5">O</text>
<use href="#hur" x="223.3" y="757.6"/><text class="hl" x="223.3" y="760.5">T</text>
<use href="#hur" x="353.4" y="755.8"/><text class="hl" x="353.4" y="758.7">K</text>
<use href="#hur" x="383.3" y="762.9"/><text class="hl" x="383.3" y="765.8">T</text>
<use href="#hur" x="504.7" y="764.6"/><text class="hl" x="504.7" y="767.5">N</text>

<!-- Titles -->
<g font-size="31.5" fill="#000">
<text x="102" y="30" textLength="271" lengthAdjust="spacingAndGlyphs">24-Sep to 28-Sep</text>
<text x="736" y="36" text-anchor="end" textLength="148" lengthAdjust="spacingAndGlyphs">Observed</text>
<text x="845" y="36" textLength="253" lengthAdjust="spacingAndGlyphs">14-Oct to 18-Oct</text>
<text x="1478" y="36" text-anchor="end" textLength="213" lengthAdjust="spacingAndGlyphs">CFS Forecast</text>
<text x="102" y="253" textLength="244" lengthAdjust="spacingAndGlyphs">29-Sep to 3-Oct</text>
<text x="845" y="259" textLength="253" lengthAdjust="spacingAndGlyphs">19-Oct to 23-Oct</text>
<text x="102" y="482" textLength="217" lengthAdjust="spacingAndGlyphs">4-Oct to 8-Oct</text>
<text x="845" y="482" textLength="255" lengthAdjust="spacingAndGlyphs">24-Oct to 28-Oct</text>
<text x="102" y="705" textLength="236" lengthAdjust="spacingAndGlyphs">9-Oct to 13-Oct</text>
<text x="845" y="705" textLength="243" lengthAdjust="spacingAndGlyphs">29-Oct to 2-Nov</text>
</g>

<!-- Lat labels -->
<g font-size="32" text-anchor="end" fill="#000">
<text x="74" y="76" textLength="61" lengthAdjust="spacingAndGlyphs">30N</text><text x="74" y="128">0</text><text x="74" y="180" textLength="61" lengthAdjust="spacingAndGlyphs">30S</text>
<text x="74" y="299" textLength="61" lengthAdjust="spacingAndGlyphs">30N</text><text x="74" y="351">0</text><text x="74" y="403" textLength="61" lengthAdjust="spacingAndGlyphs">30S</text>
<text x="74" y="522" textLength="61" lengthAdjust="spacingAndGlyphs">30N</text><text x="74" y="574">0</text><text x="74" y="626" textLength="61" lengthAdjust="spacingAndGlyphs">30S</text>
<text x="74" y="745" textLength="61" lengthAdjust="spacingAndGlyphs">30N</text><text x="74" y="797">0</text><text x="74" y="849" textLength="61" lengthAdjust="spacingAndGlyphs">30S</text>
</g>

<!-- Lon labels -->
<g font-size="32" text-anchor="middle" fill="#000">
<text x="102" y="910">0</text><text x="207.5" y="910">60E</text><text x="313" y="910">120E</text><text x="418.5" y="910">180</text><text x="524" y="910">120W</text><text x="629.5" y="910">60W</text><text x="735" y="910">0</text>
<text x="845" y="910">0</text><text x="950.5" y="910">60E</text><text x="1056" y="910">120E</text><text x="1161.5" y="910">180</text><text x="1267" y="910">120W</text><text x="1372.5" y="910">60W</text><text x="1478" y="910">0</text>
</g>

<!-- Colorbar -->
<g stroke="#000" stroke-width="1.5">
<rect x="229" y="971" width="54.8" height="22" fill="#543005"/>
<rect x="283.8" y="971" width="54.8" height="22" fill="#8c510a"/>
<rect x="338.6" y="971" width="54.9" height="22" fill="#bf812d"/>
<rect x="393.5" y="971" width="54.8" height="22" fill="#dfc27d"/>
<rect x="448.3" y="971" width="54.8" height="22" fill="#f6e8c3"/>
<rect x="503.1" y="971" width="54.8" height="22" fill="#f5f5f5"/>
<rect x="557.9" y="971" width="54.8" height="22" fill="#c7eae5"/>
<rect x="612.7" y="971" width="54.9" height="22" fill="#80cdc1"/>
<rect x="667.6" y="971" width="54.8" height="22" fill="#35978f"/>
<rect x="722.4" y="971" width="54.8" height="22" fill="#01665e"/>
<rect x="777.2" y="971" width="54.8" height="22" fill="#003c30"/>
</g>
<g font-size="27" text-anchor="middle" fill="#000">
<text x="283.8" y="1022">-5</text><text x="338.6" y="1022">-4</text><text x="393.5" y="1022">-3</text><text x="448.3" y="1022">-2</text><text x="503.1" y="1022">-1</text><text x="557.9" y="1022">1</text><text x="612.7" y="1022">2</text><text x="667.6" y="1022">3</text><text x="722.4" y="1022">4</text><text x="777.2" y="1022">5</text>
</g>
<text x="855" y="1007" font-size="27" textLength="182" lengthAdjust="spacingAndGlyphs">x10^6 m2 s-1</text>
<text x="222" y="1084" font-size="43" textLength="765" lengthAdjust="spacingAndGlyphs">5-day CHI850 with CFS forecasts</text>

<!-- Legend -->
<line x1="1088" y1="982" x2="1158" y2="982" stroke="#000" stroke-width="2"/>
<line x1="1313" y1="982" x2="1381" y2="982" stroke="#0000ff" stroke-width="2"/>
<line x1="1088" y1="1022" x2="1158" y2="1022" stroke="#a020f0" stroke-width="2"/>
<line x1="1313" y1="1022" x2="1381" y2="1022" stroke="#ff0000" stroke-width="2"/>
<g font-size="26.5" fill="#000">
<text x="1172" y="992" textLength="58" lengthAdjust="spacingAndGlyphs">MJO</text>
<text x="1393" y="992" textLength="107" lengthAdjust="spacingAndGlyphs">Kelvin x2</text>
<text x="1172" y="1032" textLength="50" lengthAdjust="spacingAndGlyphs">Low</text>
<text x="1393" y="1032" textLength="37" lengthAdjust="spacingAndGlyphs">ER</text>
<text x="1085" y="1070" textLength="354" lengthAdjust="spacingAndGlyphs">Contours at 1, 3 x10^6 m2 s-1</text>
</g>
<text x="1505" y="1127" font-size="19.5" text-anchor="end" textLength="315" lengthAdjust="spacingAndGlyphs">Carl Schreck (cjschrec@ncsu.edu)</text>
<text x="5" y="1127" font-size="19.5" textLength="204" lengthAdjust="spacingAndGlyphs">monitor.cicsnc.org/mjo</text>

<!-- Logo -->
<circle cx="85" cy="1021" r="72" fill="url(#lg)"/>
<circle cx="85" cy="1021" r="40" fill="none" stroke="#6aa8e0" stroke-width="3" stroke-dasharray="2 3" opacity="0.35"/>
<circle cx="85" cy="1021" r="25" fill="none" stroke="#6aa8e0" stroke-width="3" stroke-dasharray="2 3" opacity="0.3"/>
<path d="M18,1040 L33,1037 L43,1027 L53,1042 L67,1032 L80,1017 L90,1027 L100,1040 L110,1033 L117,1025 L122,1040 L133,1027 L143,1022 L155,1013 A72,72 0 0 1 18,1040 Z" fill="#27308f"/>
<polyline points="18,1040 33,1037 43,1027 53,1042 67,1032 80,1017 90,1027 100,1040 110,1033 117,1025 122,1040 133,1027 143,1022 155,1013" fill="none" stroke="#e8342a" stroke-width="1.6"/>
<circle cx="138" cy="1019" r="5" fill="#f6a93a"/>
<text x="84" y="1070" font-size="32" fill="#f3b33d" text-anchor="middle" textLength="103" lengthAdjust="spacingAndGlyphs">cics.nc</text>
<text font-size="9.6" fill="#fff"><textPath href="#arc">Cooperative Institute for Climate and Satellites</textPath></text>
</svg>
</body></html>
